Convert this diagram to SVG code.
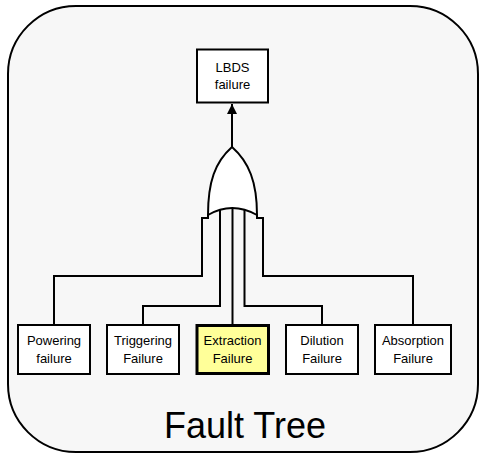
<svg xmlns="http://www.w3.org/2000/svg" width="479" height="455" viewBox="0 0 479 455">
  <defs>
    <style>
      .frame { fill: #f7f7f7; stroke: #000; stroke-width: 2; }
      .box { fill: #fff; stroke: #000; stroke-width: 2; }
      .hl { fill: #ffff99; stroke: #000; stroke-width: 3; }
      .wire { fill: none; stroke: #000; stroke-width: 2; }
      .gate { fill: #fff; stroke: #000; stroke-width: 2; stroke-linejoin: round; }
      text { font-family: "Liberation Sans", Arial, sans-serif; fill: #000; text-anchor: middle; }
      .lbl { font-size: 13px; }
      .title { font-size: 36px; }
    </style>
    <marker id="arrow" viewBox="0 0 10 10" refX="10" refY="5" markerWidth="5" markerHeight="5" markerUnits="strokeWidth" orient="auto">
      <path d="M0,0 L10,5 L0,10 z" fill="#000"/>
    </marker>
  </defs>

  <rect class="frame" x="8" y="6" width="470" height="446" rx="68" ry="68"/>

  <g id="connectors">
    <line class="wire" x1="232" y1="147" x2="232" y2="104" marker-end="url(#arrow)"/>
    <!-- inputs into the OR gate; inner ones run up under the gate body -->
    <polyline class="wire" points="54,325 54,276 202,276 202,218 208,218 208,214"/>
    <polyline class="wire" points="143,325 143,306 220,306 220,200"/>
    <polyline class="wire" points="232.5,325 232.5,200"/>
    <polyline class="wire" points="322,325 322,306 244.5,306 244.5,200"/>
    <polyline class="wire" points="413,325 413,276 263,276 263,218 257,218 257,214"/>
  </g>

  <g id="or-gate">
    <path class="gate" d="M232,147 C215,162 208,182 208,215 Q232,201 257,215 C257,182 249,162 232,147 Z"/>
  </g>

  <g id="lbds-failure">
    <rect class="box" x="197" y="49.5" width="71" height="53"/>
    <text class="lbl" x="232.5" y="72">LBDS</text>
    <text class="lbl" x="232.5" y="89">failure</text>
  </g>

  <g id="powering-failure">
    <rect class="box" x="18" y="325" width="72" height="49"/>
    <text class="lbl" x="54" y="345">Powering</text>
    <text class="lbl" x="54" y="363">failure</text>
  </g>

  <g id="triggering-failure">
    <rect class="box" x="107" y="325" width="72" height="49"/>
    <text class="lbl" x="143" y="345">Triggering</text>
    <text class="lbl" x="143" y="363">Failure</text>
  </g>

  <g id="extraction-failure">
    <rect class="hl" x="197" y="325.5" width="71.5" height="48"/>
    <text class="lbl" x="232.5" y="345">Extraction</text>
    <text class="lbl" x="232.5" y="363">Failure</text>
  </g>

  <g id="dilution-failure">
    <rect class="box" x="286" y="325" width="72" height="49"/>
    <text class="lbl" x="322" y="345">Dilution</text>
    <text class="lbl" x="322" y="363">Failure</text>
  </g>

  <g id="absorption-failure">
    <rect class="box" x="375" y="325" width="76" height="49"/>
    <text class="lbl" x="413" y="345">Absorption</text>
    <text class="lbl" x="413" y="363">Failure</text>
  </g>

  <text class="title" x="245" y="438">Fault Tree</text>
</svg>
